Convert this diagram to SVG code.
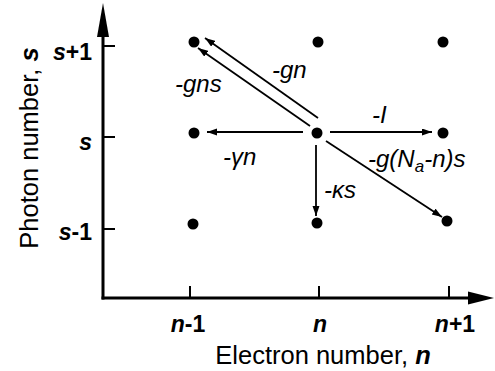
<svg xmlns="http://www.w3.org/2000/svg" width="495" height="371" viewBox="0 0 495 371">
<defs>
<marker id="ah" markerUnits="userSpaceOnUse" markerWidth="11" markerHeight="8" refX="10" refY="3.5" orient="auto">
<path d="M0,0 L10,3.5 L0,7 z" fill="#000"/>
</marker>
<style>
text{font-family:"Liberation Sans",Arial,sans-serif;fill:#000}
.lab{font-size:24px;font-style:italic}
.tick{font-size:23px;font-weight:bold}
.title{font-size:25.5px}
.dot{fill:#000}
.axis{stroke:#000;stroke-width:3;fill:none}
.tk{stroke:#000;stroke-width:2}
.arr{stroke:#000;stroke-width:1.8;fill:none;marker-end:url(#ah)}
</style>
</defs>
<rect width="495" height="371" fill="#fff"/>
<g id="axes">
<line class="axis" x1="103" y1="299.5" x2="103" y2="30"/>
<polygon points="103,3 97,37 109,37" fill="#000"/>
<line class="axis" x1="101.5" y1="298" x2="472" y2="298"/>
<polygon points="494,298 468,291.5 468,304.5" fill="#000"/>
<line class="tk" x1="103" y1="46" x2="115" y2="46"/>
<line class="tk" x1="103" y1="137" x2="115" y2="137"/>
<line class="tk" x1="103" y1="229" x2="115" y2="229"/>
<line class="tk" x1="190" y1="286" x2="190" y2="298"/>
<line class="tk" x1="319" y1="286" x2="319" y2="298"/>
<line class="tk" x1="449" y1="286" x2="449" y2="298"/>
<text class="tick" x="92" y="60" text-anchor="end"><tspan font-style="italic">s</tspan>+1</text>
<text class="tick" x="92" y="150" text-anchor="end"><tspan font-style="italic">s</tspan></text>
<text class="tick" x="92" y="240" text-anchor="end"><tspan font-style="italic">s</tspan>-1</text>
<text class="tick" x="188" y="332" text-anchor="middle"><tspan font-style="italic">n</tspan>-1</text>
<text class="tick" x="320" y="332" text-anchor="middle"><tspan font-style="italic">n</tspan></text>
<text class="tick" x="455" y="332" text-anchor="middle"><tspan font-style="italic">n</tspan>+1</text>
<text class="title" x="323" y="364" text-anchor="middle">Electron number, <tspan font-weight="bold" font-style="italic">n</tspan></text>
<text class="title" transform="translate(38,148) rotate(-90)" text-anchor="middle">Photon number, <tspan font-weight="bold" font-style="italic">s</tspan></text>
</g>
<g id="node-n1-s1"><circle class="dot" cx="194" cy="42" r="5.5"/></g>
<g id="node-n-s1"><circle class="dot" cx="318" cy="42" r="5.5"/></g>
<g id="node-np1-s1"><circle class="dot" cx="443" cy="42" r="5.5"/></g>
<g id="node-n1-s"><circle class="dot" cx="194" cy="133" r="5.5"/></g>
<g id="node-n-s"><circle class="dot" cx="317" cy="133" r="5.5"/></g>
<g id="node-np1-s"><circle class="dot" cx="443" cy="133" r="5.5"/></g>
<g id="node-n1-sm1"><circle class="dot" cx="193" cy="224" r="5.5"/></g>
<g id="node-n-sm1"><circle class="dot" cx="317" cy="223" r="5.5"/></g>
<g id="node-np1-sm1"><circle class="dot" cx="447" cy="221" r="5.5"/></g>
<g id="connectors">
<line class="arr" x1="318" y1="118" x2="205" y2="38"/>
<line class="arr" x1="310" y1="126" x2="198" y2="48"/>
<line class="arr" x1="303" y1="132" x2="207" y2="132"/>
<line class="arr" x1="330" y1="132" x2="432" y2="132"/>
<line class="arr" x1="316" y1="145" x2="316" y2="216"/>
<line class="arr" x1="326" y1="141" x2="442" y2="217"/>
</g>
<g id="labels">
<text class="lab" x="272" y="78">-gn</text>
<text class="lab" x="175" y="92">-gns</text>
<text class="lab" x="223" y="165">-γn</text>
<text class="lab" x="372" y="123">-I</text>
<text class="lab" x="324" y="198">-κs</text>
<text class="lab" x="368" y="167">-g(N<tspan font-size="17" dy="5">a</tspan><tspan dy="-5">-n)s</tspan></text>
</g>
</svg>
